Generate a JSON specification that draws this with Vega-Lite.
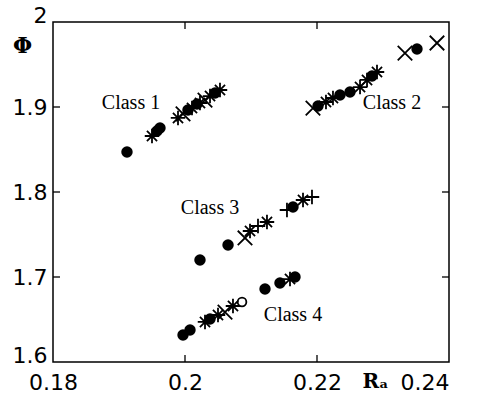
{
  "$schema": "https://vega.github.io/schema/vega-lite/v6.json",
  "width": 396,
  "height": 340,
  "autosize": {"type": "none"},
  "padding": {"left": 53, "top": 22, "right": 28, "bottom": 41},
  "background": "white",
  "config": {
    "view": {"stroke": "black", "strokeWidth": 1.5},
    "axis": {
      "domain": false,
      "grid": false,
      "ticks": false,
      "labelFont": "DejaVu Sans",
      "labelFontSize": 22,
      "labelColor": "black",
      "titleColor": "black"
    }
  },
  "datasets": {
    "pts": [
      {"x": 0.19121, "y": 1.8471, "m": "dot", "c": "1"},
      {"x": 0.19500, "y": 1.8659, "m": "star", "c": "1"},
      {"x": 0.19576, "y": 1.8718, "m": "dot", "c": "1"},
      {"x": 0.19621, "y": 1.8753, "m": "dot", "c": "1"},
      {"x": 0.19894, "y": 1.8871, "m": "star", "c": "1"},
      {"x": 0.19970, "y": 1.8918, "m": "x", "c": "1"},
      {"x": 0.20045, "y": 1.8965, "m": "dot", "c": "1"},
      {"x": 0.20106, "y": 1.8988, "m": "star", "c": "1"},
      {"x": 0.20182, "y": 1.9035, "m": "dot", "c": "1"},
      {"x": 0.20227, "y": 1.9047, "m": "star", "c": "1"},
      {"x": 0.20303, "y": 1.9082, "m": "x", "c": "1"},
      {"x": 0.20379, "y": 1.9129, "m": "star", "c": "1"},
      {"x": 0.20455, "y": 1.9165, "m": "dot", "c": "1"},
      {"x": 0.20530, "y": 1.9200, "m": "star", "c": "1"},
      {"x": 0.21939, "y": 1.8988, "m": "x", "c": "2"},
      {"x": 0.22015, "y": 1.9012, "m": "dot", "c": "2"},
      {"x": 0.22136, "y": 1.9059, "m": "star", "c": "2"},
      {"x": 0.22242, "y": 1.9106, "m": "star", "c": "2"},
      {"x": 0.22348, "y": 1.9141, "m": "dot", "c": "2"},
      {"x": 0.22500, "y": 1.9176, "m": "dot", "c": "2"},
      {"x": 0.22652, "y": 1.9235, "m": "star", "c": "2"},
      {"x": 0.22758, "y": 1.9318, "m": "star", "c": "2"},
      {"x": 0.22833, "y": 1.9365, "m": "dot", "c": "2"},
      {"x": 0.22909, "y": 1.9412, "m": "star", "c": "2"},
      {"x": 0.23333, "y": 1.9635, "m": "x", "c": "2"},
      {"x": 0.23515, "y": 1.9682, "m": "dot", "c": "2"},
      {"x": 0.23818, "y": 1.9753, "m": "x", "c": "2"},
      {"x": 0.20227, "y": 1.7200, "m": "dot", "c": "3"},
      {"x": 0.20652, "y": 1.7376, "m": "dot", "c": "3"},
      {"x": 0.20909, "y": 1.7459, "m": "x", "c": "3"},
      {"x": 0.20985, "y": 1.7541, "m": "star", "c": "3"},
      {"x": 0.21106, "y": 1.7600, "m": "plus", "c": "3"},
      {"x": 0.21242, "y": 1.7647, "m": "star", "c": "3"},
      {"x": 0.21545, "y": 1.7788, "m": "plus", "c": "3"},
      {"x": 0.21636, "y": 1.7824, "m": "dot", "c": "3"},
      {"x": 0.21788, "y": 1.7906, "m": "star", "c": "3"},
      {"x": 0.21924, "y": 1.7941, "m": "plus", "c": "3"},
      {"x": 0.19970, "y": 1.6318, "m": "dot", "c": "4"},
      {"x": 0.20076, "y": 1.6376, "m": "dot", "c": "4"},
      {"x": 0.20303, "y": 1.6471, "m": "star", "c": "4"},
      {"x": 0.20379, "y": 1.6506, "m": "dot", "c": "4"},
      {"x": 0.20500, "y": 1.6553, "m": "star", "c": "4"},
      {"x": 0.20606, "y": 1.6588, "m": "x", "c": "4"},
      {"x": 0.20727, "y": 1.6659, "m": "star", "c": "4"},
      {"x": 0.20864, "y": 1.6706, "m": "ring", "c": "4"},
      {"x": 0.21212, "y": 1.6859, "m": "dot", "c": "4"},
      {"x": 0.21439, "y": 1.6929, "m": "dot", "c": "4"},
      {"x": 0.21591, "y": 1.6976, "m": "star", "c": "4"},
      {"x": 0.21667, "y": 1.7000, "m": "dot", "c": "4"}
    ],
    "labels": [
      {"x": 0.19182, "y": 1.9047, "t": "Class 1"},
      {"x": 0.23136, "y": 1.9047, "t": "Class 2"},
      {"x": 0.20379, "y": 1.7812, "t": "Class 3"},
      {"x": 0.21636, "y": 1.6553, "t": "Class 4"}
    ],
    "xticks": [{"v": 0.2}, {"v": 0.22}],
    "yticks": [{"v": 1.7}, {"v": 1.8}, {"v": 1.9}]
  },
  "layer": [
    {
      "data": {"name": "pts"},
      "transform": [{"filter": "datum.m == 'dot'"}],
      "mark": {"type": "point", "filled": true, "shape": "circle", "size": 130, "color": "black", "opacity": 1},
      "encoding": {
        "x": {
          "field": "x", "type": "quantitative",
          "scale": {"domain": [0.18, 0.24], "nice": false, "zero": false},
          "axis": {
            "orient": "bottom", "values": [0.18, 0.2, 0.22, 0.24], "format": "~g",
            "labelPadding": 10,
            "labelAlign": {"condition": {"test": "datum.value > 0.235", "value": "right"}, "value": "center"},
            "title": "Rₐ", "titleFont": "DejaVu Serif", "titleFontSize": 20, "titleFontWeight": "bold",
            "titleX": 322, "titleY": 25, "titleAlign": "center", "titleBaseline": "alphabetic"
          }
        },
        "y": {
          "field": "y", "type": "quantitative",
          "scale": {"domain": [1.6, 2.0], "nice": false, "zero": false},
          "axis": {
            "orient": "left", "values": [1.6, 1.7, 1.8, 1.9, 2.0], "format": "~g",
            "labelPadding": 6,
            "labelBaseline": {"condition": {"test": "datum.value < 1.65 || datum.value > 1.95", "value": "alphabetic"}, "value": "middle"},
            "title": "Φ", "titleFont": "DejaVu Serif", "titleFontSize": 22, "titleFontWeight": "bold",
            "titleAngle": 0, "titleX": -31, "titleY": 23, "titleAlign": "center", "titleBaseline": "middle"
          }
        }
      }
    },
    {
      "data": {"name": "pts"},
      "transform": [{"filter": "datum.m != 'dot'"}],
      "mark": {"type": "point", "filled": false, "stroke": "black", "strokeWidth": 1.8, "opacity": 1, "size": 210},
      "encoding": {
        "x": {"field": "x", "type": "quantitative", "axis": null},
        "y": {"field": "y", "type": "quantitative", "axis": null},
        "shape": {
          "field": "m", "type": "nominal", "legend": null,
          "scale": {
            "domain": ["star", "x", "plus", "ring"],
            "range": [
              "M-1,0L1,0M0,-1L0,1M-0.7,-0.7L0.7,0.7M-0.7,0.7L0.7,-0.7",
              "M-1,-1L1,1M-1,1L1,-1",
              "M-1,0L1,0M0,-1L0,1",
              "M-0.6,0A0.6,0.6 0 1,0 0.6,0A0.6,0.6 0 1,0 -0.6,0Z"
            ]
          }
        }
      }
    },
    {
      "data": {"name": "xticks"},
      "mark": {"type": "tick", "orient": "vertical", "size": 7, "thickness": 1.3, "color": "black", "opacity": 1, "yOffset": -3.5},
      "encoding": {
        "x": {"field": "v", "type": "quantitative", "axis": null},
        "y": {"datum": 1.6, "type": "quantitative", "axis": null}
      }
    },
    {
      "data": {"name": "xticks"},
      "mark": {"type": "tick", "orient": "vertical", "size": 7, "thickness": 1.3, "color": "black", "opacity": 1, "yOffset": 3.5},
      "encoding": {
        "x": {"field": "v", "type": "quantitative", "axis": null},
        "y": {"datum": 2.0, "type": "quantitative", "axis": null}
      }
    },
    {
      "data": {"name": "yticks"},
      "mark": {"type": "tick", "orient": "horizontal", "size": 7, "thickness": 1.3, "color": "black", "opacity": 1, "xOffset": 3.5},
      "encoding": {
        "y": {"field": "v", "type": "quantitative", "axis": null},
        "x": {"datum": 0.18, "type": "quantitative", "axis": null}
      }
    },
    {
      "data": {"name": "yticks"},
      "mark": {"type": "tick", "orient": "horizontal", "size": 7, "thickness": 1.3, "color": "black", "opacity": 1, "xOffset": -3.5},
      "encoding": {
        "y": {"field": "v", "type": "quantitative", "axis": null},
        "x": {"datum": 0.24, "type": "quantitative", "axis": null}
      }
    },
    {
      "data": {"name": "labels"},
      "mark": {"type": "text", "font": "Liberation Serif", "fontSize": 20, "align": "center", "baseline": "middle", "color": "black"},
      "encoding": {
        "x": {"field": "x", "type": "quantitative", "axis": null},
        "y": {"field": "y", "type": "quantitative", "axis": null},
        "text": {"field": "t"}
      }
    }
  ],
  "resolve": {"axis": {"x": "independent", "y": "independent"}}
}
